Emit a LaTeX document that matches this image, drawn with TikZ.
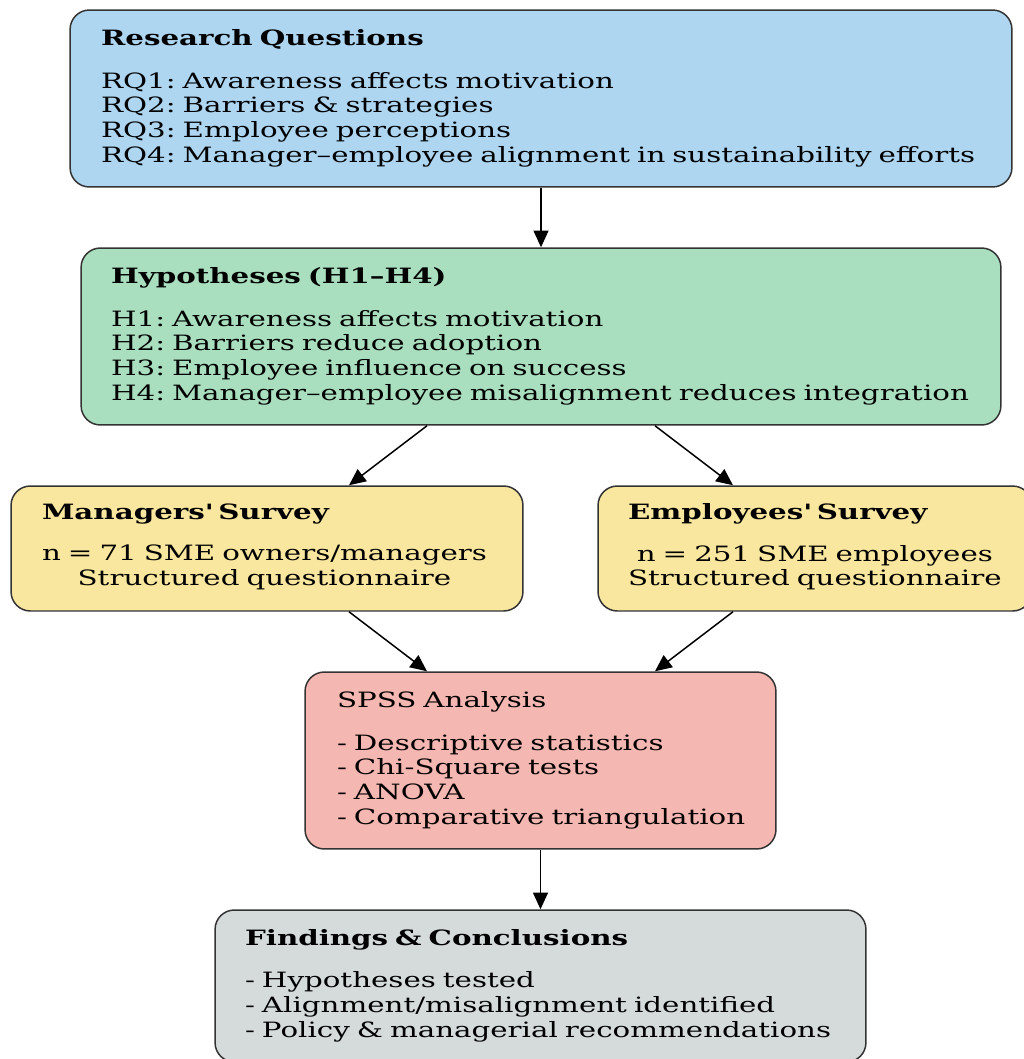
\documentclass[tikz,border=0pt]{standalone}
\usepackage{fontspec}
\setmainfont{DejaVu Serif}[FakeStretch=1.39]
\frenchspacing
\usetikzlibrary{arrows.meta}
\definecolor{rqblue}{HTML}{AED6F1}
\definecolor{hypgreen}{HTML}{A9DFBF}
\definecolor{survyellow}{HTML}{F9E79F}
\definecolor{spsspink}{HTML}{F5B7B1}
\definecolor{findgray}{HTML}{D5DBDB}
\definecolor{edge}{HTML}{333333}
\begin{document}
\begin{tikzpicture}[x=0.02cm,y=-0.02cm,
    box/.style={draw=edge,line width=0.85pt,rounded corners=11pt,align=left,inner sep=0pt,
      font=\fontsize{12}{14.2}\selectfont},
    flow/.style={-{Triangle[length=9.5pt,width=8.5pt]},line width=0.85pt,draw=black}]
  \useasboundingbox (0,0) rectangle (1024,1059);

  \node[box,fill=rqblue,minimum width=18.84cm,minimum height=3.54cm,text width=17.6cm] (rq) at (541,98.5)
    {\textbf{Research Questions}\\[10pt]
     RQ1: Awareness affects motivation\\
     RQ2: Barriers \& strategies\\
     RQ3: Employee perceptions\\
     RQ4: Manager--employee alignment in sustainability efforts};
  \node[box,fill=hypgreen,minimum width=18.4cm,minimum height=3.54cm,text width=17.2cm] (hyp) at (541,336.5)
    {\textbf{Hypotheses (H1--H4)}\\[10pt]
     H1: Awareness affects motivation\\
     H2: Barriers reduce adoption\\
     H3: Employee influence on success\\
     H4: Manager--employee misalignment reduces integration};
  \node[box,fill=survyellow,minimum width=10.24cm,minimum height=2.5cm,text width=9.0cm] (mgr) at (267,548.5)
    {\textbf{Managers\textquotesingle{} Survey}\\[10pt]
     \begin{tabular}{@{}c@{}}n = 71 SME owners/managers\\ Structured questionnaire\end{tabular}};
  \node[box,fill=survyellow,minimum width=8.68cm,minimum height=2.5cm,text width=7.48cm] (emp) at (815,548.5)
    {\textbf{Employees\textquotesingle{} Survey}\\[10pt]
     \begin{tabular}{@{}c@{}}n = 251 SME employees\\ Structured questionnaire\end{tabular}};
  \node[box,fill=spsspink,minimum width=9.42cm,minimum height=3.54cm,text width=8.14cm] (spss) at (540.5,760.5)
    {SPSS Analysis\\[10pt]
     - Descriptive statistics\\
     - Chi-Square tests\\
     - ANOVA\\
     \mbox{- Comparative triangulation}};
  \node[box,fill=findgray,minimum width=13.02cm,minimum height=3.04cm,text width=11.82cm] (find) at (540.5,986)
    {\textbf{Findings \& Conclusions}\\[10pt]
     - Hypotheses tested\\
     - Alignment/misalignment identified\\
     - Policy \& managerial recommendations};

  % straight arrows between the stages
  \draw[flow] (rq.south) -- (hyp.north);
  \draw[flow] ([xshift=-2.28cm]hyp.south) -- ([xshift=1.64cm]mgr.north);
  \draw[flow] ([xshift=2.28cm]hyp.south) -- ([xshift=-1.64cm]emp.north);
  \draw[flow] ([xshift=1.64cm]mgr.south) -- ([xshift=-2.27cm]spss.north);
  \draw[flow] ([xshift=-1.64cm]emp.south) -- ([xshift=2.29cm]spss.north);
  \draw[flow] (spss.south) -- (find.north);
\end{tikzpicture}
\end{document}
